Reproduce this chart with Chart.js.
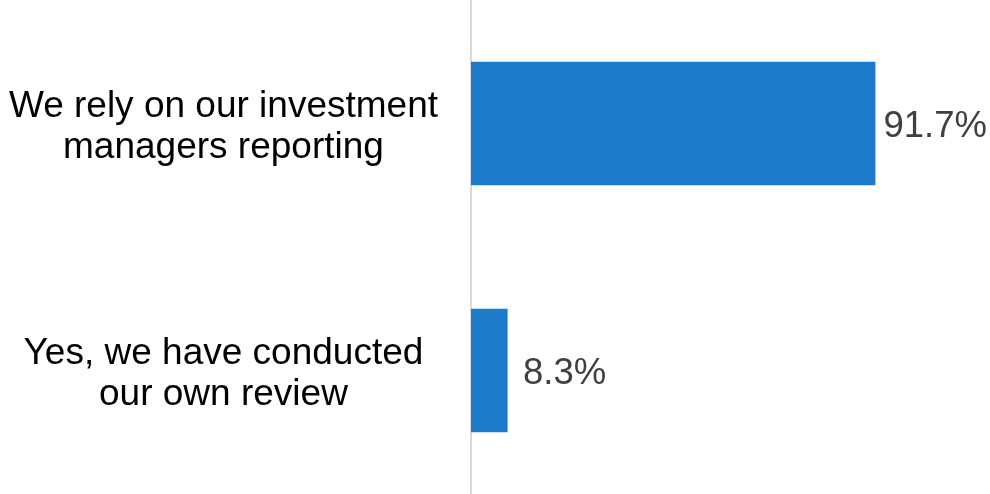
<!DOCTYPE html>
<html>
<head>
<meta charset="utf-8">
<script src="https://cdn.jsdelivr.net/npm/chart.js@4/dist/chart.umd.min.js"></script>
<style>
  html, body { margin: 0; padding: 0; background: #fff; }
  #wrap { width: 990px; height: 494px; }
</style>
</head>
<body>
<div id="wrap"><canvas id="c" width="990" height="494"></canvas></div>
<script>
// Survey responses, share of respondents (%)
const categories = [
  ['We rely on our investment', 'managers reporting'],
  ['Yes, we have conducted', 'our own review']
];
const shares = [91.7, 8.3];

const FONT = 'Liberation Sans, Arial, sans-serif';

// Writes each bar's value just past its end (short bars keep a minimum indent)
const valueLabels = {
  id: 'valueLabels',
  afterDatasetsDraw(chart) {
    const ctx = chart.ctx;
    const meta = chart.getDatasetMeta(0);
    ctx.save();
    ctx.font = '36.5px ' + FONT;
    ctx.fillStyle = '#404040';
    ctx.textAlign = 'left';
    ctx.textBaseline = 'middle';
    meta.data.forEach((bar, i) => {
      const x = Math.max(bar.x + 8, bar.base + 52);
      ctx.fillText(shares[i].toFixed(1) + '%', x, bar.y + 3);
    });
    ctx.restore();
  }
};

new Chart(document.getElementById('c'), {
  type: 'bar',
  data: {
    labels: categories,
    datasets: [{
      data: shares,
      backgroundColor: '#1c7bcb',
      borderWidth: 0,
      barPercentage: 0.5,
      categoryPercentage: 1.0
    }]
  },
  options: {
    indexAxis: 'y',
    responsive: false,
    animation: false,
    layout: { padding: { left: 0, right: 78, top: 0, bottom: 0 } },
    plugins: {
      legend: { display: false },
      tooltip: { enabled: false }
    },
    scales: {
      x: {
        display: false,
        min: 0,
        max: 100
      },
      y: {
        afterFit(scale) {
          scale.width = 471;
          scale.paddingTop = 0;
          scale.paddingBottom = 0;
        },
        grid: { display: false, drawTicks: false },
        border: { display: true, color: '#d9d9d9', width: 2 },
        ticks: {
          crossAlign: 'center',
          padding: 33,
          labelOffset: 4,
          color: '#000000',
          font: { family: FONT, size: 37, lineHeight: 1.11 }
        }
      }
    }
  },
  plugins: [valueLabels]
});
</script>
</body>
</html>
